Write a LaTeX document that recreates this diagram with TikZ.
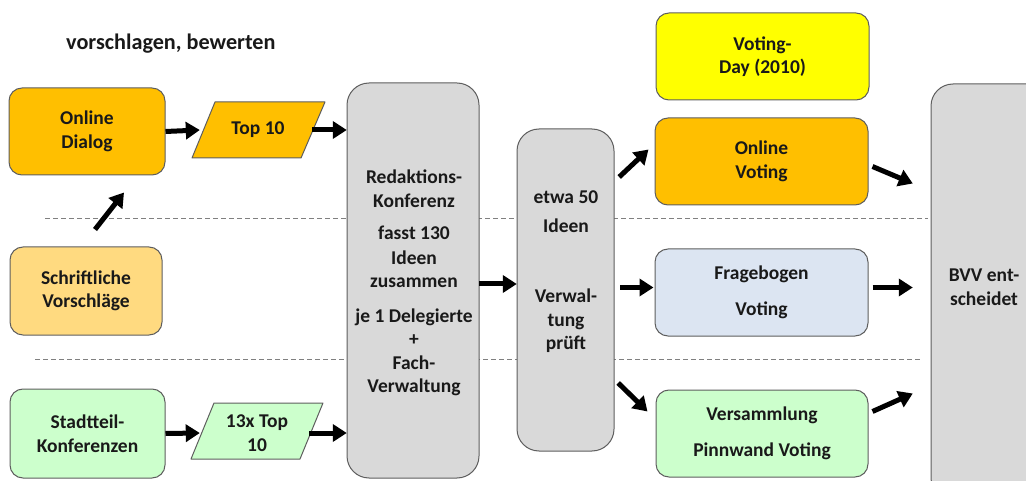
\documentclass[tikz,border=0pt]{standalone}
\usepackage{fontspec}
\setmainfont{Carlito}
\usetikzlibrary{arrows.meta,calc}
\definecolor{orangeC}{HTML}{FFBF00}
\definecolor{lorange}{HTML}{FFDA80}
\definecolor{lgreen}{HTML}{CCFFCC}
\definecolor{lblue}{HTML}{DCE5F2}
\definecolor{gbox}{HTML}{D9D9D9}
\definecolor{yel}{HTML}{FFFF00}
\definecolor{bord}{HTML}{5E5E5E}
\definecolor{dashc}{HTML}{808080}
\tikzset{
  txt/.style={align=center, font=\bfseries\fontsize{19.5}{23.5}\selectfont, inner sep=0pt, text=black!90},
  box/.style={txt, draw=bord, line width=1pt, rounded corners=13pt, minimum width=#1},
  box/.default=156pt,
  tall/.style={draw=bord, line width=1pt, rounded corners=22pt, fill=gbox},
  para/.style={draw=bord, line width=1pt, line join=round},
  arr/.style={line width=5pt, -{Triangle[length=14pt,width=17pt]}},
  sepline/.style={draw=dashc, line width=1pt, dash pattern=on 5pt off 3pt}
}
\begin{document}
\begin{tikzpicture}[x=1pt,y=-1pt]
\useasboundingbox (0,0) rectangle (1026,481);
\clip (0,0) rectangle (1026,481);

% separator lines
\coordinate (s1a) at (45,219);
\coordinate (s1b) at (928,219);
\coordinate (s2a) at (35,359);
\coordinate (s2b) at (920,359);
\draw[sepline] (s1a) -- (s1b);
\draw[sepline] (s2a) -- (s2b);

% title
\node[txt, anchor=west, font=\bfseries\fontsize{22.2}{26}\selectfont] (title) at (66,44) {vorschlagen, bewerten};

% left column
\node[box=156pt, minimum height=87pt, fill=orangeC] (od) at (87,131.5) {Online\\Dialog};
\node[box=152pt, minimum height=88pt, fill=lorange] (sv) at (86,291) {Schriftliche\\Vorschläge};
\node[box=155pt, minimum height=89pt, fill=lgreen] (sk) at (87.5,433.5) {Stadtteil-\\Konferenzen};

% parallelograms
\draw[para, fill=orangeC] (215,102) -- (325,102) -- (301,158) -- (192,158) -- cycle;
\node[txt, minimum width=110pt, minimum height=56pt] (top) at (258,130) {Top 10};
\draw[para, fill=lgreen] (214,403) -- (323,403) -- (300,459) -- (191,459) -- cycle;
\node[txt, minimum width=108pt, minimum height=56pt] (top13) at (257,433) {13x Top\\10};

% Redaktions-Konferenz
\draw[tall] (347,83) rectangle (479,478);
\node[minimum width=132pt, minimum height=395pt, inner sep=0pt] (rk) at (413,280.5) {};
\node[txt] (rkt) at (414,283) {Redaktions-\\Konferenz\\[9pt]fasst 130\\[1pt]Ideen\\zusammen\\[11pt]je 1 Delegierte\\+\\Fach-\\Verwaltung};

% etwa 50 Ideen
\draw[tall] (517,129) rectangle (614,451);
\node[minimum width=97pt, minimum height=322pt, inner sep=0pt] (ew) at (565.5,290) {};
\node[txt] (ewt) at (566,272) {etwa 50\\[5pt]Ideen\\[47pt]Verwal-\\tung\\prüft};

% right column
\node[box=213pt, minimum height=87pt, fill=yel] (vd) at (762.5,56.5) {Voting-\\Day (2010)};
\node[box=213pt, minimum height=87pt, fill=orangeC] (ov) at (761.5,161.5) {Online\\Voting};
\node[box=213pt, minimum height=87pt, fill=lblue] (fv) at (761.5,292.5) {Fragebogen\\[12pt]Voting};
\node[box=212pt, minimum height=87pt, fill=lgreen] (vv) at (762,433.5) {Versammlung\\[12pt]Pinnwand Voting};

% BVV
\draw[tall] (931,84) rectangle (1060,500);
\node[minimum width=95pt, minimum height=397pt, inner sep=0pt] (bvv) at (978.5,282.5) {};
\node[txt] (bvvt) at (984,287) {BVV ent-\\scheidet};

% arrows
\draw[arr] (od.east) -- ([xshift=-3pt]top.west);
\draw[arr] ([xshift=-1pt]top.east) -- (rk.west |- top.east);
\draw[arr] ($(sv.north)+(9,-17)$) -- ($(od.south)+(37,17)$);
\draw[arr] (sk.east) -- ([xshift=-3pt]top13.west);
\draw[arr] ([xshift=-2pt]top13.east) -- (rk.west |- top13.east);
\draw[arr] (rk.east |- 0,284) -- (ew.west |- 0,284);
\draw[arr] ($(ew.east)+(5,-113)$) -- ($(ov.west)+(-6,-12)$);
\draw[arr] ($(ew.east |- fv.west)+(6,-5)$) -- ($(fv.west)+(-1,-5)$);
\draw[arr] ($(ew.east)+(4,93)$) -- ($(vv.west)+(-8,-22)$);
\draw[arr] ($(ov.east)+(4,5)$) -- ($(bvv.west)+(-18,-99)$);
\draw[arr] ($(fv.east)+(4,-5)$) -- ($(bvv.west)+(-18,5)$);
\draw[arr] ($(vv.east)+(4,-22)$) -- ($(bvv.west)+(-18,111)$);
\end{tikzpicture}
\end{document}
